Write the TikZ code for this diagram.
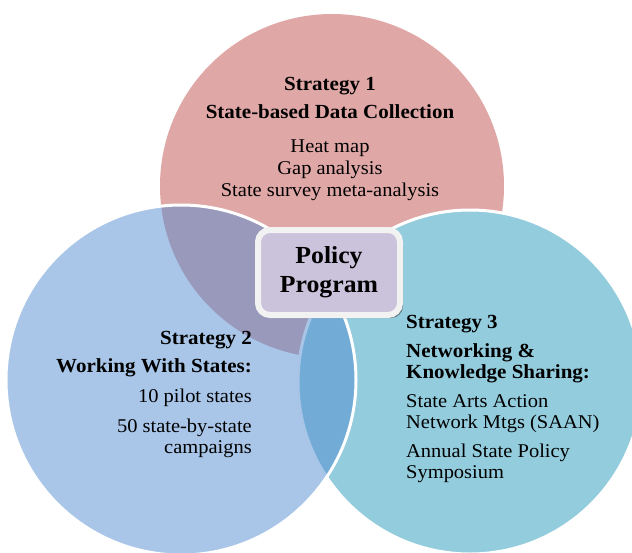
\documentclass[tikz,border=0pt]{standalone}
\usepackage{fontspec}
\setmainfont[FakeStretch=1.05]{Liberation Serif}
\usetikzlibrary{shadows}
\definecolor{pinkfill}{RGB}{224,167,167}
\definecolor{tealfill}{RGB}{147,204,221}
\definecolor{bluefill}{RGB}{83,141,209}
\definecolor{lavender}{RGB}{203,194,219}
\definecolor{boxedge}{RGB}{242,242,242}
\begin{document}
\begin{tikzpicture}[x=1pt,y=-1pt,
  ring/.style={draw=white,line width=3pt},
  head/.style={font=\fontsize{20}{22}\selectfont\bfseries,inner sep=0pt},
  item/.style={font=\fontsize{19.5}{22}\selectfont,inner sep=0pt},
  centrebox/.style={draw=boxedge,line width=6pt,fill=lavender,rounded corners=12pt,
    minimum width=142pt,minimum height=85pt,align=center,
    font=\fontsize{24.5}{29}\selectfont\bfseries,
    drop shadow={shadow xshift=3pt,shadow yshift=-3pt,fill=black!75,opacity=0.6}}]
\useasboundingbox (0,0) rectangle (632,552);

% three strategy circles
\fill[pinkfill] (332,186) circle[radius=172pt];
\fill[tealfill] (470,382) circle[radius=172pt];
\draw[ring] (470,382) circle[radius=172pt];
\fill[bluefill,opacity=0.5] (181,380) circle[radius=175pt];
\draw[ring] (181,380) circle[radius=175pt];

% strategy 1
\node[head,anchor=base] (s1a) at (330,90) {Strategy 1};
\node[head,anchor=base] (s1b) at (330,118) {State-based Data Collection};
\node[item,anchor=base] (s1c) at (330,152) {Heat map};
\node[item,anchor=base] (s1d) at (330,174) {Gap analysis};
\node[item,anchor=base] (s1e) at (330,196) {State survey meta-analysis};

% strategy 2
\node[head,anchor=base east] (s2a) at (252,344) {Strategy 2};
\node[head,anchor=base east] (s2b) at (252,372) {Working With States:};
\node[item,anchor=base east] (s2c) at (252,402) {10 pilot states};
\node[item,anchor=base east] (s2d) at (252,432) {50 state-by-state};
\node[item,anchor=base east] (s2e) at (252,453) {campaigns};

% strategy 3
\node[head,anchor=base west] (s3a) at (406,328) {Strategy 3};
\node[head,anchor=base west] (s3b) at (406,357) {Networking \&};
\node[head,anchor=base west] (s3c) at (406,378) {Knowledge Sharing:};
\node[item,anchor=base west] (s3d) at (406,407) {State Arts Action};
\node[item,anchor=base west] (s3e) at (406,428) {Network Mtgs (SAAN)};
\node[item,anchor=base west] (s3f) at (406,457) {Annual State Policy};
\node[item,anchor=base west] (s3g) at (406,478) {Symposium};

% central label
\node[centrebox] (prog) at (329,272.5) {Policy\\Program};
\end{tikzpicture}
\end{document}
